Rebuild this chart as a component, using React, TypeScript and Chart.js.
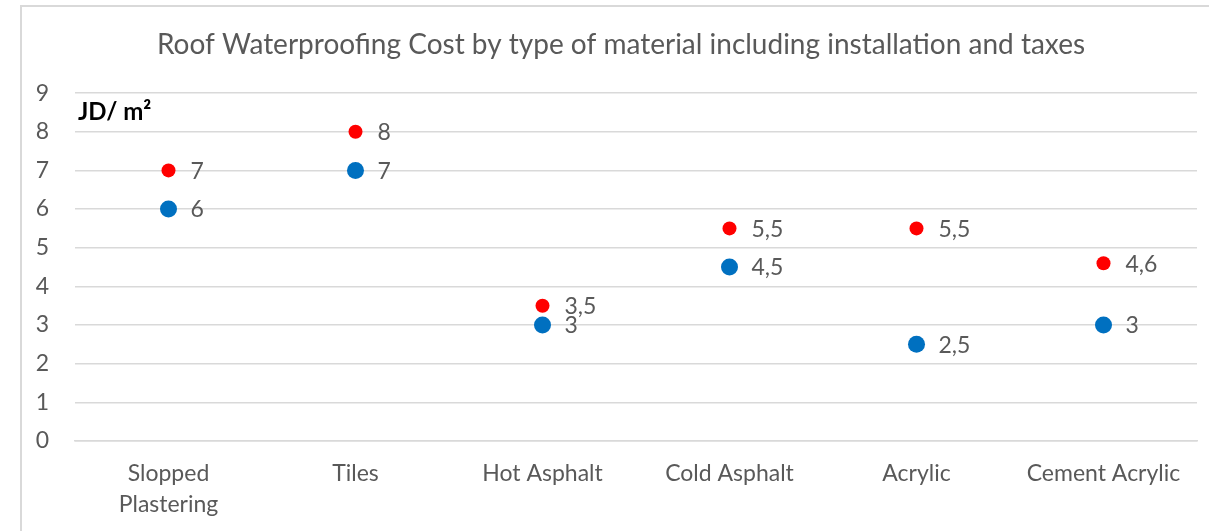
import React, { useEffect, useRef } from "react";
import { Chart, registerables } from "chart.js";

Chart.register(...registerables);

const categories: (string | string[])[] = [
  ["Slopped", "Plastering"],
  "Tiles",
  "Hot Asphalt",
  "Cold Asphalt",
  "Acrylic",
  "Cement Acrylic",
];
const maxCost = [7, 8, 3.5, 5.5, 5.5, 4.6];
const minCost = [6, 7, 3, 4.5, 2.5, 3];
const yMin = 0;
const yMax = 9;
const titleText =
  "Roof Waterproofing Cost by type of material including installation and taxes";
const unitText = "JD/ m²";

const FONT = "Lato, 'Open Sans', sans-serif";
const GREY = "#595959";
const TITLE_SIZE = 28;
const TITLE_PAD_TOP = 22;

const labelsPlugin = {
  id: "pointLabels",
  afterDatasetsDraw(chart: any) {
    const ctx = chart.ctx;
    ctx.save();
    ctx.font = `23px ${FONT}`;
    ctx.fillStyle = GREY;
    ctx.textAlign = "left";
    ctx.textBaseline = "middle";
    chart.data.datasets.forEach((ds: any, i: number) => {
      const meta = chart.getDatasetMeta(i);
      meta.data.forEach((pt: any, j: number) => {
        const v = ds.data[j];
        ctx.fillText(String(v).replace(".", ","), pt.x + 22, pt.y + 1);
      });
    });
    const ys = chart.scales.y;
    ctx.font = `bold 24px ${FONT}`;
    ctx.fillStyle = "#000000";
    ctx.fillText(unitText, chart.chartArea.left + 3, ys.getPixelForValue(8.5));

    // title, centred on the whole chart box
    ctx.font = `${TITLE_SIZE}px ${FONT}`;
    ctx.fillStyle = GREY;
    ctx.textAlign = "center";
    ctx.fillText(titleText, chart.width / 2, TITLE_PAD_TOP + (TITLE_SIZE * 1.2) / 2);
    ctx.restore();
  },
};

export default function App() {
  const ref = useRef<HTMLCanvasElement | null>(null);
  useEffect(() => {
    if (!ref.current) return;
    const chart = new Chart(ref.current, {
      type: "line",
      data: {
        labels: categories,
        datasets: [
          {
            label: "Min",
            data: minCost,
            showLine: false,
            pointRadius: 8.5,
            pointHoverRadius: 8.5,
            pointBackgroundColor: "#0070C0",
            pointBorderWidth: 0,
            borderColor: "#0070C0",
            backgroundColor: "#0070C0",
          },
          {
            label: "Max",
            data: maxCost,
            showLine: false,
            pointRadius: 7,
            pointHoverRadius: 7,
            pointBackgroundColor: "#FF0000",
            pointBorderWidth: 0,
            borderColor: "#FF0000",
            backgroundColor: "#FF0000",
          },
        ],
      },
      options: {
        animation: false,
        responsive: false,
        maintainAspectRatio: false,
        layout: { padding: { left: 0, right: 24, top: 0, bottom: 0 } },
        plugins: {
          legend: { display: false },
          tooltip: { enabled: false },
          title: {
            display: true,
            text: titleText,
            color: "rgba(0,0,0,0)",
            font: { family: FONT, size: TITLE_SIZE, weight: "normal" },
            padding: { top: TITLE_PAD_TOP, bottom: 31.5 },
          },
        },
        scales: {
          x: {
            offset: true,
            grid: { display: false, drawTicks: false },
            border: { display: true, color: "#d9d9d9", width: 1.5 },
            ticks: {
              color: GREY,
              font: { family: FONT, size: 23, lineHeight: 1.35 },
              padding: 17.5,
              maxRotation: 0,
              autoSkip: false,
            },
            afterFit(s: any) {
              s.height = 90;
            },
          },
          y: {
            min: yMin,
            max: yMax,
            grid: { color: "#d9d9d9", lineWidth: 1.5, drawTicks: false },
            border: { display: false },
            ticks: {
              stepSize: 1,
              color: GREY,
              font: { family: FONT, size: 23 },
              padding: 26,
            },
            afterFit(s: any) {
              s.width = 54;
            },
          },
        },
      },
      plugins: [labelsPlugin],
    });
    return () => chart.destroy();
  }, []);

  return (
    <div
      style={{
        position: "absolute",
        left: 0,
        top: 0,
        width: 1209,
        height: 531,
        overflow: "hidden",
        background: "#fff",
      }}
    >
      <div
        style={{
          position: "absolute",
          left: 20,
          top: 5,
          width: 1300,
          height: 600,
          border: "2px solid #d9d9d9",
        }}
      />
      <canvas
        ref={ref}
        width={1200}
        height={525}
        style={{ position: "absolute", left: 21, top: 6 }}
      />
    </div>
  );
}
